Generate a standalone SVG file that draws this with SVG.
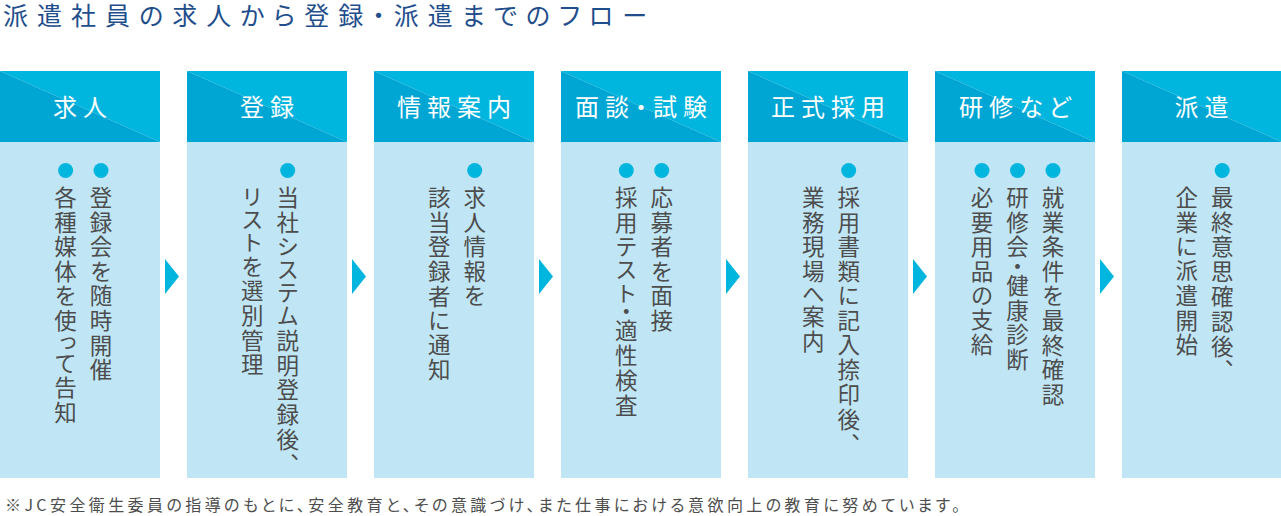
<svg xmlns="http://www.w3.org/2000/svg" width="1281" height="516" viewBox="0 0 1281 516">
<style>
.title{font-family:"Noto Sans CJK JP","Noto Sans",sans-serif;font-size:25px;fill:#1f4e8c;font-feature-settings:"palt" 1;}
.foot{font-family:"Noto Sans CJK JP","Noto Sans",sans-serif;font-size:16px;fill:#4d4d4d;font-feature-settings:"palt" 1;}
.hl{fill:#00b5de;}
.hd{fill:#00a6d3;}
.body{fill:#c0e6f5;}
.ht{font-family:"Noto Sans CJK JP","Noto Sans",sans-serif;font-size:24px;fill:#ffffff;letter-spacing:6px;text-anchor:middle;font-feature-settings:"palt" 1;}
.vt{font-family:"Noto Sans CJK JP","Noto Sans",sans-serif;font-size:22.5px;fill:#4d4d4d;letter-spacing:2.3px;writing-mode:vertical-rl;font-feature-settings:"vpal" 1;}
.dot{fill:#00b5de;}
.arrow{fill:#00b5de;}
</style>
<defs>
<g id="colbg">
<rect class="body" x="0" y="142" width="160" height="336"/>
<polygon class="hl" points="0,71 160,71 160,142"/>
<polygon class="hd" points="0,71 0,142 160,142"/>
</g>
</defs>
<text class="title" x="3" y="25" textLength="644" lengthAdjust="spacing">派遣社員の求人から登録・派遣までのフロー</text>

<g id="node-kyujin">
<use href="#colbg" x="0"/>
<text class="ht" x="83" y="116">求人</text>
<circle class="dot" cx="101" cy="170.5" r="7.5"/>
<circle class="dot" cx="65.6" cy="170.5" r="7.5"/>
<text class="vt" x="101" y="186">登録会を随時開催</text>
<text class="vt" x="65.6" y="186">各種媒体を使って告知</text>
</g>

<g id="node-toroku">
<use href="#colbg" x="187"/>
<text class="ht" x="270" y="116">登録</text>
<circle class="dot" cx="287.7" cy="170.5" r="7.5"/>
<text class="vt" x="287.7" y="186">当社システム説明登録後、</text>
<text class="vt" x="252.3" y="186">リストを選別管理</text>
</g>

<g id="node-annai">
<use href="#colbg" x="374"/>
<text class="ht" x="457" y="116">情報案内</text>
<circle class="dot" cx="474.7" cy="170.5" r="7.5"/>
<text class="vt" x="474.7" y="186">求人情報を</text>
<text class="vt" x="439.3" y="186">該当登録者に通知</text>
</g>

<g id="node-mendan">
<use href="#colbg" x="561"/>
<text class="ht" x="644" y="116">面談・試験</text>
<circle class="dot" cx="661.7" cy="170.5" r="7.5"/>
<circle class="dot" cx="626.3" cy="170.5" r="7.5"/>
<text class="vt" x="661.7" y="186">応募者を面接</text>
<text class="vt" x="626.3" y="186">採用テスト・適性検査</text>
</g>

<g id="node-saiyo">
<use href="#colbg" x="748"/>
<text class="ht" x="831" y="116">正式採用</text>
<circle class="dot" cx="848.7" cy="170.5" r="7.5"/>
<text class="vt" x="848.7" y="186">採用書類に記入捺印後、</text>
<text class="vt" x="813.3" y="186">業務現場へ案内</text>
</g>

<g id="node-kenshu">
<use href="#colbg" x="935"/>
<text class="ht" x="1018" y="116">研修など</text>
<circle class="dot" cx="1053" cy="170.5" r="7.5"/>
<circle class="dot" cx="1017.5" cy="170.5" r="7.5"/>
<circle class="dot" cx="982" cy="170.5" r="7.5"/>
<text class="vt" x="1053" y="186">就業条件を最終確認</text>
<text class="vt" x="1017.5" y="186">研修会・健康診断</text>
<text class="vt" x="982" y="186">必要用品の支給</text>
</g>

<g id="node-haken">
<use href="#colbg" x="1122"/>
<text class="ht" x="1204.5" y="116">派遣</text>
<circle class="dot" cx="1222.2" cy="170.5" r="7.5"/>
<text class="vt" x="1222.2" y="186">最終意思確認後、</text>
<text class="vt" x="1186.8" y="186">企業に派遣開始</text>
</g>

<g id="connectors">
<polygon class="arrow" points="165,259 179,276.5 165,294"/>
<polygon class="arrow" points="352,259 366,276.5 352,294"/>
<polygon class="arrow" points="539,259 553,276.5 539,294"/>
<polygon class="arrow" points="726,259 740,276.5 726,294"/>
<polygon class="arrow" points="913,259 927,276.5 913,294"/>
<polygon class="arrow" points="1100,259 1114,276.5 1100,294"/>
</g>

<text class="foot" x="5" y="511" textLength="955" lengthAdjust="spacing">※JC安全衛生委員の指導のもとに、安全教育と、その意識づけ、また仕事における意欲向上の教育に努めています。</text>
</svg>
